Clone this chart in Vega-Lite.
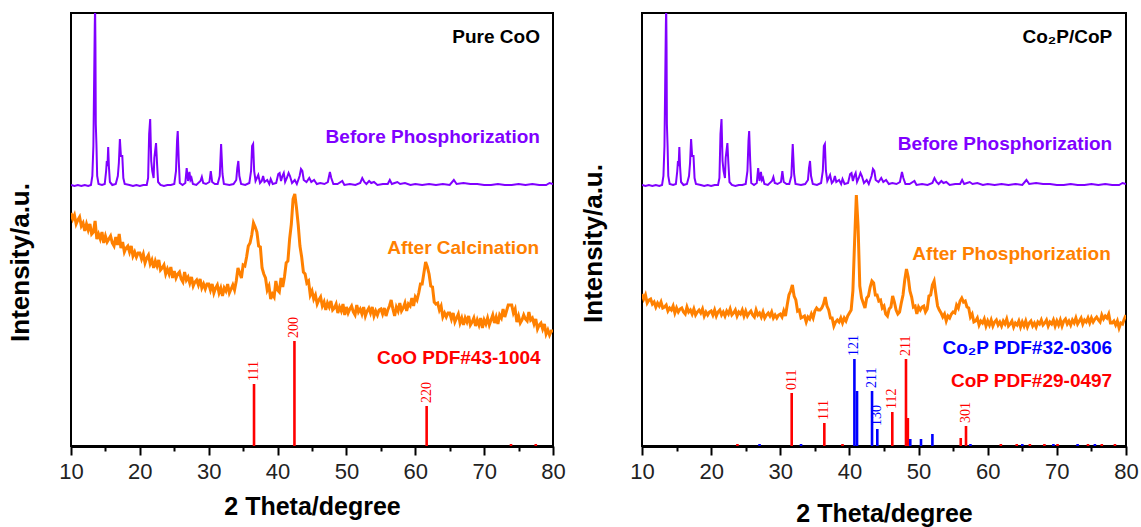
{
"$schema": "https://vega.github.io/schema/vega-lite/v6.json",
"padding": {"left": 6, "top": 12, "right": 0, "bottom": 0},
"spacing": 12,
"config": {"view": {"stroke": "#000000", "strokeWidth": 2}, "axis": {"grid": false}},
"datasets": {
"purple": [{"x":10,"y":261},{"x":10.5,"y":260},{"x":11,"y":261},{"x":11.5,"y":260},{"x":12,"y":261},{"x":12.5,"y":260},{"x":12.9,"y":261},{"x":13.1,"y":270},{"x":13.25,"y":300},{"x":13.35,"y":360},{"x":13.45,"y":420},{"x":13.5,"y":440},{"x":13.55,"y":400},{"x":13.6,"y":322},{"x":13.7,"y":300},{"x":13.8,"y":270},{"x":14,"y":262},{"x":14.5,"y":261},{"x":14.9,"y":262},{"x":15.1,"y":275},{"x":15.2,"y":285},{"x":15.3,"y":280},{"x":15.4,"y":299},{"x":15.5,"y":280},{"x":15.65,"y":264},{"x":16,"y":261},{"x":16.5,"y":262},{"x":16.8,"y":270},{"x":16.95,"y":283},{"x":17.1,"y":307},{"x":17.25,"y":290},{"x":17.45,"y":290},{"x":17.6,"y":268},{"x":17.8,"y":262},{"x":18.5,"y":261},{"x":19,"y":260},{"x":19.5,"y":261},{"x":20,"y":260},{"x":20.5,"y":261},{"x":21,"y":261},{"x":21.2,"y":268},{"x":21.35,"y":312},{"x":21.5,"y":327},{"x":21.65,"y":285},{"x":21.8,"y":275},{"x":22,"y":268},{"x":22.1,"y":288},{"x":22.35,"y":303},{"x":22.5,"y":282},{"x":22.65,"y":264},{"x":23,"y":261},{"x":23.5,"y":260},{"x":24,"y":261},{"x":24.5,"y":261},{"x":25,"y":262},{"x":25.25,"y":275},{"x":25.4,"y":305},{"x":25.5,"y":315},{"x":25.65,"y":285},{"x":25.8,"y":263},{"x":26.2,"y":261},{"x":26.6,"y":263},{"x":26.8,"y":278},{"x":27,"y":265},{"x":27.2,"y":274},{"x":27.35,"y":266},{"x":27.5,"y":268},{"x":27.7,"y":262},{"x":28.2,"y":261},{"x":28.8,"y":265},{"x":29,"y":269},{"x":29.2,"y":263},{"x":29.6,"y":262},{"x":30.1,"y":264},{"x":30.3,"y":275},{"x":30.5,"y":264},{"x":30.9,"y":262},{"x":31.3,"y":262},{"x":31.6,"y":270},{"x":31.8,"y":302},{"x":32,"y":272},{"x":32.2,"y":262},{"x":33,"y":261},{"x":33.6,"y":262},{"x":34,"y":266},{"x":34.15,"y":278},{"x":34.3,"y":285},{"x":34.45,"y":270},{"x":34.7,"y":262},{"x":35.3,"y":261},{"x":35.9,"y":263},{"x":36.15,"y":275},{"x":36.3,"y":300},{"x":36.45,"y":302},{"x":36.6,"y":275},{"x":36.8,"y":265},{"x":37,"y":268},{"x":37.2,"y":271},{"x":37.45,"y":263},{"x":37.7,"y":265},{"x":37.9,"y":270},{"x":38.1,"y":264},{"x":38.5,"y":266},{"x":38.8,"y":262},{"x":39,"y":267},{"x":39.3,"y":262},{"x":39.8,"y":263},{"x":40.1,"y":272},{"x":40.3,"y":273},{"x":40.5,"y":265},{"x":40.7,"y":270},{"x":40.9,"y":273},{"x":41.1,"y":264},{"x":41.35,"y":268},{"x":41.6,"y":273},{"x":41.8,"y":270},{"x":42.1,"y":263},{"x":42.5,"y":266},{"x":42.8,"y":262},{"x":43.2,"y":270},{"x":43.4,"y":277},{"x":43.6,"y":275},{"x":43.8,"y":266},{"x":44.2,"y":264},{"x":44.6,"y":268},{"x":44.9,"y":264},{"x":45.3,"y":266},{"x":45.7,"y":262},{"x":46.2,"y":263},{"x":46.8,"y":262},{"x":47.3,"y":264},{"x":47.6,"y":274},{"x":47.8,"y":268},{"x":48.1,"y":262},{"x":48.7,"y":262},{"x":49.4,"y":265},{"x":49.7,"y":261},{"x":50.5,"y":262},{"x":51.3,"y":261},{"x":52,"y":263},{"x":52.3,"y":268},{"x":52.6,"y":264},{"x":52.9,"y":262},{"x":53.3,"y":265},{"x":53.6,"y":263},{"x":54,"y":264},{"x":54.5,"y":261},{"x":55.3,"y":262},{"x":56,"y":262},{"x":56.3,"y":266},{"x":56.6,"y":262},{"x":57,"y":263},{"x":57.4,"y":264},{"x":57.8,"y":262},{"x":58.5,"y":263},{"x":59.3,"y":261},{"x":60,"y":262},{"x":61,"y":261},{"x":62,"y":262},{"x":63,"y":261},{"x":64,"y":262},{"x":65,"y":261},{"x":65.6,"y":266},{"x":66,"y":262},{"x":67,"y":263},{"x":68,"y":262},{"x":69,"y":262},{"x":70,"y":261},{"x":71,"y":261},{"x":72,"y":262},{"x":73,"y":261},{"x":74,"y":261},{"x":75,"y":262},{"x":76,"y":261},{"x":77,"y":262},{"x":78,"y":261},{"x":79,"y":261},{"x":79.5,"y":263},{"x":80,"y":262}],
"orangeL": [{"x":10,"y":233},{"x":10.25,"y":227},{"x":10.5,"y":231},{"x":10.75,"y":222},{"x":11,"y":226},{"x":11.25,"y":229},{"x":11.5,"y":220},{"x":11.75,"y":223},{"x":12,"y":215},{"x":12.25,"y":222},{"x":12.5,"y":216},{"x":12.75,"y":222},{"x":13,"y":212},{"x":13.25,"y":214},{"x":13.5,"y":225},{"x":13.75,"y":207},{"x":14,"y":212},{"x":14.25,"y":207},{"x":14.5,"y":214},{"x":14.75,"y":203},{"x":15,"y":210},{"x":15.25,"y":204},{"x":15.5,"y":207},{"x":15.75,"y":210},{"x":16,"y":203},{"x":16.25,"y":200},{"x":16.5,"y":209},{"x":16.75,"y":201},{"x":17,"y":212},{"x":17.25,"y":198},{"x":17.5,"y":204},{"x":17.75,"y":194},{"x":18,"y":198},{"x":18.25,"y":200},{"x":18.5,"y":194},{"x":18.75,"y":200},{"x":19,"y":190},{"x":19.25,"y":194},{"x":19.5,"y":189},{"x":19.75,"y":193},{"x":20,"y":193},{"x":20.25,"y":187},{"x":20.5,"y":192},{"x":20.75,"y":183},{"x":21,"y":188},{"x":21.25,"y":191},{"x":21.5,"y":182},{"x":21.75,"y":186},{"x":22,"y":178},{"x":22.25,"y":185},{"x":22.5,"y":180},{"x":22.75,"y":186},{"x":23,"y":176},{"x":23.25,"y":178},{"x":23.5,"y":181},{"x":23.75,"y":172},{"x":24,"y":177},{"x":24.25,"y":172},{"x":24.5,"y":179},{"x":24.75,"y":168},{"x":25,"y":175},{"x":25.25,"y":168},{"x":25.5,"y":172},{"x":25.75,"y":174},{"x":26,"y":167},{"x":26.25,"y":164},{"x":26.5,"y":174},{"x":26.75,"y":166},{"x":27,"y":169},{"x":27.25,"y":163},{"x":27.5,"y":169},{"x":27.75,"y":160},{"x":28,"y":164},{"x":28.25,"y":166},{"x":28.5,"y":161},{"x":28.75,"y":167},{"x":29,"y":158},{"x":29.25,"y":162},{"x":29.5,"y":157},{"x":29.75,"y":162},{"x":30,"y":162},{"x":30.25,"y":156},{"x":30.5,"y":162},{"x":30.75,"y":153},{"x":31,"y":158},{"x":31.25,"y":161},{"x":31.5,"y":153},{"x":31.75,"y":158},{"x":32,"y":150},{"x":32.25,"y":158},{"x":32.5,"y":155},{"x":32.75,"y":162},{"x":33,"y":153},{"x":33.25,"y":157},{"x":33.5,"y":161},{"x":33.75,"y":156},{"x":34,"y":165},{"x":34.25,"y":178},{"x":34.5,"y":173},{"x":34.75,"y":168},{"x":35,"y":181},{"x":35.25,"y":180},{"x":35.5,"y":189},{"x":35.75,"y":200},{"x":36,"y":203},{"x":36.25,"y":211},{"x":36.5,"y":223},{"x":36.75,"y":219},{"x":37,"y":214},{"x":37.25,"y":200},{"x":37.5,"y":199},{"x":37.75,"y":178},{"x":38,"y":172},{"x":38.25,"y":168},{"x":38.5,"y":156},{"x":38.75,"y":160},{"x":39,"y":147},{"x":39.25,"y":152},{"x":39.5,"y":149},{"x":39.75,"y":165},{"x":40,"y":156},{"x":40.25,"y":154},{"x":40.5,"y":168},{"x":40.75,"y":159},{"x":41,"y":169},{"x":41.25,"y":183},{"x":41.5,"y":185},{"x":41.75,"y":207},{"x":42,"y":222},{"x":42.25,"y":247},{"x":42.5,"y":252},{"x":42.75,"y":238},{"x":43,"y":221},{"x":43.25,"y":200},{"x":43.5,"y":189},{"x":43.75,"y":174},{"x":44,"y":172},{"x":44.25,"y":163},{"x":44.5,"y":165},{"x":44.75,"y":151},{"x":45,"y":155},{"x":45.25,"y":147},{"x":45.5,"y":151},{"x":45.75,"y":142},{"x":46,"y":146},{"x":46.25,"y":149},{"x":46.5,"y":140},{"x":46.75,"y":144},{"x":47,"y":136},{"x":47.25,"y":143},{"x":47.5,"y":139},{"x":47.75,"y":145},{"x":48,"y":136},{"x":48.25,"y":138},{"x":48.5,"y":142},{"x":48.75,"y":133},{"x":49,"y":139},{"x":49.25,"y":135},{"x":49.5,"y":142},{"x":49.75,"y":131},{"x":50,"y":139},{"x":50.25,"y":133},{"x":50.5,"y":137},{"x":50.75,"y":140},{"x":51,"y":134},{"x":51.25,"y":131},{"x":51.5,"y":141},{"x":51.75,"y":134},{"x":52,"y":137},{"x":52.25,"y":132},{"x":52.5,"y":139},{"x":52.75,"y":130},{"x":53,"y":135},{"x":53.25,"y":138},{"x":53.5,"y":133},{"x":53.75,"y":139},{"x":54,"y":130},{"x":54.25,"y":135},{"x":54.5,"y":131},{"x":54.75,"y":136},{"x":55,"y":137},{"x":55.25,"y":132},{"x":55.5,"y":138},{"x":55.75,"y":130},{"x":56,"y":136},{"x":56.25,"y":140},{"x":56.5,"y":146},{"x":56.75,"y":137},{"x":57,"y":130},{"x":57.25,"y":139},{"x":57.5,"y":135},{"x":57.75,"y":143},{"x":58,"y":135},{"x":58.25,"y":138},{"x":58.5,"y":143},{"x":58.75,"y":135},{"x":59,"y":142},{"x":59.25,"y":140},{"x":59.5,"y":148},{"x":59.75,"y":140},{"x":60,"y":149},{"x":60.25,"y":146},{"x":60.5,"y":153},{"x":60.75,"y":162},{"x":61,"y":162},{"x":61.25,"y":173},{"x":61.5,"y":184},{"x":61.75,"y":179},{"x":62,"y":172},{"x":62.25,"y":160},{"x":62.5,"y":159},{"x":62.75,"y":144},{"x":63,"y":142},{"x":63.25,"y":143},{"x":63.5,"y":136},{"x":63.75,"y":140},{"x":64,"y":129},{"x":64.25,"y":133},{"x":64.5,"y":129},{"x":64.75,"y":133},{"x":65,"y":133},{"x":65.25,"y":127},{"x":65.5,"y":133},{"x":65.75,"y":124},{"x":66,"y":128},{"x":66.25,"y":132},{"x":66.5,"y":123},{"x":66.75,"y":128},{"x":67,"y":121},{"x":67.25,"y":128},{"x":67.5,"y":124},{"x":67.75,"y":130},{"x":68,"y":121},{"x":68.25,"y":124},{"x":68.5,"y":128},{"x":68.75,"y":120},{"x":69,"y":126},{"x":69.25,"y":121},{"x":69.5,"y":128},{"x":69.75,"y":118},{"x":70,"y":126},{"x":70.25,"y":122},{"x":70.5,"y":128},{"x":70.75,"y":121},{"x":71,"y":126},{"x":71.25,"y":131},{"x":71.5,"y":123},{"x":71.75,"y":129},{"x":72,"y":122},{"x":72.25,"y":131},{"x":72.5,"y":128},{"x":72.75,"y":137},{"x":73,"y":129},{"x":73.25,"y":135},{"x":73.5,"y":141},{"x":73.75,"y":141},{"x":74,"y":141},{"x":74.25,"y":133},{"x":74.5,"y":137},{"x":74.75,"y":124},{"x":75,"y":130},{"x":75.25,"y":123},{"x":75.5,"y":126},{"x":75.75,"y":131},{"x":76,"y":127},{"x":76.25,"y":125},{"x":76.5,"y":134},{"x":76.75,"y":126},{"x":77,"y":128},{"x":77.25,"y":122},{"x":77.5,"y":127},{"x":77.75,"y":117},{"x":78,"y":121},{"x":78.25,"y":123},{"x":78.5,"y":117},{"x":78.75,"y":122},{"x":79,"y":112},{"x":79.25,"y":116},{"x":79.5,"y":111},{"x":79.75,"y":115},{"x":80,"y":115}],
"orangeR": [{"x":10,"y":152},{"x":10.25,"y":147},{"x":10.5,"y":151},{"x":10.75,"y":143},{"x":11,"y":146},{"x":11.25,"y":147},{"x":11.5,"y":142},{"x":11.75,"y":144},{"x":12,"y":139},{"x":12.25,"y":143},{"x":12.5,"y":140},{"x":12.75,"y":144},{"x":13,"y":138},{"x":13.25,"y":139},{"x":13.5,"y":141},{"x":13.75,"y":135},{"x":14,"y":138},{"x":14.25,"y":136},{"x":14.5,"y":140},{"x":14.75,"y":133},{"x":15,"y":138},{"x":15.25,"y":134},{"x":15.5,"y":137},{"x":15.75,"y":138},{"x":16,"y":134},{"x":16.25,"y":132},{"x":16.5,"y":139},{"x":16.75,"y":134},{"x":17,"y":136},{"x":17.25,"y":132},{"x":17.5,"y":137},{"x":17.75,"y":131},{"x":18,"y":134},{"x":18.25,"y":136},{"x":18.5,"y":133},{"x":18.75,"y":137},{"x":19,"y":130},{"x":19.25,"y":134},{"x":19.5,"y":131},{"x":19.75,"y":134},{"x":20,"y":135},{"x":20.25,"y":131},{"x":20.5,"y":136},{"x":20.75,"y":130},{"x":21,"y":134},{"x":21.25,"y":136},{"x":21.5,"y":131},{"x":21.75,"y":134},{"x":22,"y":130},{"x":22.25,"y":135},{"x":22.5,"y":132},{"x":22.75,"y":137},{"x":23,"y":131},{"x":23.25,"y":133},{"x":23.5,"y":136},{"x":23.75,"y":130},{"x":24,"y":134},{"x":24.25,"y":132},{"x":24.5,"y":136},{"x":24.75,"y":130},{"x":25,"y":135},{"x":25.25,"y":130},{"x":25.5,"y":133},{"x":25.75,"y":135},{"x":26,"y":131},{"x":26.25,"y":129},{"x":26.5,"y":136},{"x":26.75,"y":131},{"x":27,"y":133},{"x":27.25,"y":129},{"x":27.5,"y":134},{"x":27.75,"y":128},{"x":28,"y":131},{"x":28.25,"y":133},{"x":28.5,"y":130},{"x":28.75,"y":134},{"x":29,"y":128},{"x":29.25,"y":131},{"x":29.5,"y":128},{"x":29.75,"y":131},{"x":30,"y":132},{"x":30.25,"y":129},{"x":30.5,"y":135},{"x":30.75,"y":130},{"x":31,"y":141},{"x":31.25,"y":151},{"x":31.5,"y":155},{"x":31.75,"y":161},{"x":32,"y":150},{"x":32.25,"y":146},{"x":32.5,"y":135},{"x":32.75,"y":136},{"x":33,"y":128},{"x":33.25,"y":129},{"x":33.5,"y":130},{"x":33.75,"y":124},{"x":34,"y":129},{"x":34.25,"y":127},{"x":34.5,"y":132},{"x":34.75,"y":128},{"x":35,"y":135},{"x":35.25,"y":138},{"x":35.5,"y":136},{"x":35.75,"y":136},{"x":36,"y":138},{"x":36.25,"y":142},{"x":36.5,"y":149},{"x":36.75,"y":140},{"x":37,"y":136},{"x":37.25,"y":128},{"x":37.5,"y":128},{"x":37.75,"y":120},{"x":38,"y":124},{"x":38.25,"y":126},{"x":38.5,"y":124},{"x":38.75,"y":128},{"x":39,"y":123},{"x":39.25,"y":128},{"x":39.5,"y":125},{"x":39.75,"y":130},{"x":40,"y":133},{"x":40.25,"y":136},{"x":40.5,"y":155},{"x":40.75,"y":205},{"x":41,"y":251},{"x":41.25,"y":220},{"x":41.5,"y":160},{"x":41.75,"y":148},{"x":42,"y":143},{"x":42.25,"y":138},{"x":42.5,"y":148},{"x":42.75,"y":150},{"x":43,"y":159},{"x":43.25,"y":165},{"x":43.5,"y":163},{"x":43.75,"y":151},{"x":44,"y":151},{"x":44.25,"y":145},{"x":44.5,"y":146},{"x":44.75,"y":138},{"x":45,"y":140},{"x":45.25,"y":132},{"x":45.5,"y":130},{"x":45.75,"y":137},{"x":46,"y":139},{"x":46.25,"y":150},{"x":46.5,"y":144},{"x":46.75,"y":136},{"x":47,"y":132},{"x":47.25,"y":134},{"x":47.5,"y":143},{"x":47.75,"y":151},{"x":48,"y":166},{"x":48.25,"y":177},{"x":48.5,"y":169},{"x":48.75,"y":155},{"x":49,"y":149},{"x":49.25,"y":139},{"x":49.5,"y":140},{"x":49.75,"y":132},{"x":50,"y":139},{"x":50.25,"y":136},{"x":50.5,"y":139},{"x":50.75,"y":140},{"x":51,"y":134},{"x":51.25,"y":137},{"x":51.5,"y":150},{"x":51.75,"y":151},{"x":52,"y":161},{"x":52.25,"y":165},{"x":52.5,"y":152},{"x":52.75,"y":140},{"x":53,"y":136},{"x":53.25,"y":133},{"x":53.5,"y":129},{"x":53.75,"y":132},{"x":54,"y":125},{"x":54.25,"y":130},{"x":54.5,"y":128},{"x":54.75,"y":132},{"x":55,"y":134},{"x":55.25,"y":133},{"x":55.5,"y":141},{"x":55.75,"y":138},{"x":56,"y":145},{"x":56.25,"y":148},{"x":56.5,"y":144},{"x":56.75,"y":145},{"x":57,"y":139},{"x":57.25,"y":138},{"x":57.5,"y":129},{"x":57.75,"y":132},{"x":58,"y":124},{"x":58.25,"y":125},{"x":58.5,"y":128},{"x":58.75,"y":121},{"x":59,"y":125},{"x":59.25,"y":123},{"x":59.5,"y":127},{"x":59.75,"y":120},{"x":60,"y":125},{"x":60.25,"y":121},{"x":60.5,"y":126},{"x":60.75,"y":120},{"x":61,"y":124},{"x":61.25,"y":126},{"x":61.5,"y":121},{"x":61.75,"y":124},{"x":62,"y":120},{"x":62.25,"y":125},{"x":62.5,"y":122},{"x":62.75,"y":127},{"x":63,"y":120},{"x":63.25,"y":122},{"x":63.5,"y":125},{"x":63.75,"y":119},{"x":64,"y":123},{"x":64.25,"y":121},{"x":64.5,"y":125},{"x":64.75,"y":119},{"x":65,"y":124},{"x":65.25,"y":120},{"x":65.5,"y":125},{"x":65.75,"y":119},{"x":66,"y":123},{"x":66.25,"y":125},{"x":66.5,"y":120},{"x":66.75,"y":123},{"x":67,"y":119},{"x":67.25,"y":124},{"x":67.5,"y":122},{"x":67.75,"y":126},{"x":68,"y":121},{"x":68.25,"y":123},{"x":68.5,"y":126},{"x":68.75,"y":120},{"x":69,"y":124},{"x":69.25,"y":122},{"x":69.5,"y":126},{"x":69.75,"y":120},{"x":70,"y":125},{"x":70.25,"y":121},{"x":70.5,"y":126},{"x":70.75,"y":120},{"x":71,"y":125},{"x":71.25,"y":127},{"x":71.5,"y":122},{"x":71.75,"y":125},{"x":72,"y":121},{"x":72.25,"y":126},{"x":72.5,"y":123},{"x":72.75,"y":128},{"x":73,"y":122},{"x":73.25,"y":125},{"x":73.5,"y":128},{"x":73.75,"y":122},{"x":74,"y":126},{"x":74.25,"y":124},{"x":74.5,"y":128},{"x":74.75,"y":123},{"x":75,"y":128},{"x":75.25,"y":124},{"x":75.5,"y":127},{"x":75.75,"y":129},{"x":76,"y":126},{"x":76.25,"y":124},{"x":76.5,"y":131},{"x":76.75,"y":127},{"x":77,"y":130},{"x":77.25,"y":128},{"x":77.5,"y":132},{"x":77.75,"y":123},{"x":78,"y":123},{"x":78.25,"y":125},{"x":78.5,"y":121},{"x":78.75,"y":125},{"x":79,"y":118},{"x":79.25,"y":123},{"x":79.5,"y":122},{"x":79.75,"y":127},{"x":80,"y":131}],
"sticksL": [{"x":36.58,"y":62,"c":"r","lab":"111"},{"x":42.45,"y":105,"c":"r","lab":"200"},{"x":61.65,"y":40,"c":"r","lab":"220"},{"x":73.9,"y":2,"c":"r"},{"x":77.5,"y":2,"c":"r"}],
"sticksR": [{"x":23.8,"y":2,"c":"r"},{"x":31.65,"y":53,"c":"r","lab":"011"},{"x":36.37,"y":23,"c":"r","lab":"111"},{"x":39.0,"y":2,"c":"r"},{"x":46.2,"y":34,"c":"r","lab":"112"},{"x":48.18,"y":87,"c":"r","lab":"211"},{"x":48.45,"y":28,"c":"r"},{"x":56.1,"y":8,"c":"r"},{"x":56.86,"y":20,"c":"r","lab":"301"},{"x":61.9,"y":2,"c":"r"},{"x":64.2,"y":2,"c":"r"},{"x":66.1,"y":2,"c":"r"},{"x":68.2,"y":2,"c":"r"},{"x":70.1,"y":2,"c":"r"},{"x":74.5,"y":2,"c":"r"},{"x":76.5,"y":2,"c":"r"},{"x":78.4,"y":2,"c":"r"},{"x":27.0,"y":2,"c":"b"},{"x":33.0,"y":2,"c":"b"},{"x":40.72,"y":87,"c":"b","lab":"121"},{"x":41.1,"y":55,"c":"b"},{"x":43.27,"y":55,"c":"b","lab":"211"},{"x":44.03,"y":17,"c":"b","lab":"130"},{"x":48.8,"y":7,"c":"b"},{"x":50.35,"y":7,"c":"b"},{"x":52.0,"y":12,"c":"b"},{"x":57.5,"y":2,"c":"b"},{"x":65.0,"y":2,"c":"b"},{"x":69.5,"y":2,"c":"b"},{"x":73.0,"y":2,"c":"b"},{"x":75.5,"y":2,"c":"b"}],
"notesL": [{"x":78.1,"y":409,"t":"Pure CoO","c":"k"},{"x":78.1,"y":309,"t":"Before Phosphorization","c":"p"},{"x":78.0,"y":198,"t":"After Calcination","c":"o"},{"x":78.2,"y":88,"t":"CoO PDF#43-1004","c":"r"}],
"notesR": [{"x":78.0,"y":409,"t":"Co₂P/CoP","c":"k"},{"x":78.0,"y":302,"t":"Before Phosphorization","c":"p"},{"x":77.8,"y":192,"t":"After Phosphorization","c":"o"},{"x":78.0,"y":98,"t":"Co₂P PDF#32-0306","c":"b"},{"x":78.0,"y":65,"t":"CoP PDF#29-0497","c":"r"}]
},
"hconcat": [
{
"width": 482, "height": 433,
"encoding": {
"x": {"field": "x", "type": "quantitative", "scale": {"domain": [10, 80], "nice": false, "zero": false},
 "axis": {"title": "2 Theta/degree", "values": [10,15,20,25,30,35,40,45,50,55,60,65,70,75,80], "labelExpr": "datum.value % 10 === 0 ? datum.label : ''", "labelOverlap": false, "labelBound": false, "labelFlush": false, "tickSize": {"condition": {"test": "datum.value % 10 === 0", "value": 9}, "value": 5}, "tickWidth": 2, "tickColor": "#000000", "domainColor": "#000000", "domainWidth": 3, "labelFont": "Liberation Sans", "labelFontSize": 22, "labelColor": "#222222", "labelPadding": 6, "titleFont": "Liberation Sans", "titleFontSize": 25, "titleFontWeight": "bold", "titleColor": "#000000", "titlePadding": 12}},
"y": {"field": "y", "type": "quantitative", "scale": {"domain": [0, 433], "nice": false, "zero": false},
 "axis": {"title": "Intensity/a.u.", "labels": false, "ticks": false, "domain": false, "titleFont": "Liberation Sans", "titleFontSize": 26, "titleFontWeight": "bold", "titleColor": "#000000", "titlePadding": 38, "titleY": 249}}
},
"layer": [
{"data": {"name": "sticksL"}, "mark": {"type": "rule", "strokeWidth": 2.6}, "encoding": {"y2": {"datum": 0}, "color": {"field": "c", "type": "nominal", "scale": {"domain": ["k","p","o","r","b"], "range": ["#000000","#8000ff","#ff8000","#ff0000","#0000ff"]}, "legend": null}}},
{"data": {"name": "purple"}, "mark": {"type": "line", "color": "#8000ff", "strokeWidth": 2, "clip": true}, "encoding": {}},
{"data": {"name": "orangeL"}, "mark": {"type": "line", "color": "#ff8000", "strokeWidth": 3, "clip": true}, "encoding": {}},
{"data": {"name": "sticksL"}, "transform": [{"filter": "datum.lab"}], "mark": {"type": "text", "angle": 270, "align": "left", "baseline": "middle", "dx": 3, "font": "Liberation Serif", "fontSize": 14}, "encoding": {"text": {"field": "lab"}, "color": {"field": "c", "type": "nominal", "legend": null}}},
{"data": {"name": "notesL"}, "mark": {"type": "text", "align": "right", "baseline": "middle", "font": "Liberation Sans", "fontSize": 19, "fontWeight": "bold"}, "encoding": {"text": {"field": "t"}, "color": {"field": "c", "type": "nominal", "legend": null}}}
]
},
{
"width": 484, "height": 433,
"encoding": {
"x": {"field": "x", "type": "quantitative", "scale": {"domain": [10, 80], "nice": false, "zero": false},
 "axis": {"title": "2 Theta/degree", "values": [10,15,20,25,30,35,40,45,50,55,60,65,70,75,80], "labelExpr": "datum.value % 10 === 0 ? datum.label : ''", "labelOverlap": false, "labelBound": false, "labelFlush": false, "tickSize": {"condition": {"test": "datum.value % 10 === 0", "value": 9}, "value": 5}, "tickWidth": 2, "tickColor": "#000000", "domainColor": "#000000", "domainWidth": 3, "labelFont": "Liberation Sans", "labelFontSize": 22, "labelColor": "#222222", "labelPadding": 6, "titleFont": "Liberation Sans", "titleFontSize": 25, "titleFontWeight": "bold", "titleColor": "#000000", "titlePadding": 19}},
"y": {"field": "y", "type": "quantitative", "scale": {"domain": [0, 433], "nice": false, "zero": false},
 "axis": {"title": "Intensity/a.u.", "labels": false, "ticks": false, "domain": false, "titleFont": "Liberation Sans", "titleFontSize": 26, "titleFontWeight": "bold", "titleColor": "#000000", "titlePadding": 36, "titleY": 230}}
},
"layer": [
{"data": {"name": "sticksR"}, "mark": {"type": "rule", "strokeWidth": 2.6}, "encoding": {"y2": {"datum": 0}, "color": {"field": "c", "type": "nominal", "scale": {"domain": ["k","p","o","r","b"], "range": ["#000000","#8000ff","#ff8000","#ff0000","#0000ff"]}, "legend": null}}},
{"data": {"name": "purple"}, "mark": {"type": "line", "color": "#8000ff", "strokeWidth": 2, "clip": true}, "encoding": {}},
{"data": {"name": "orangeR"}, "mark": {"type": "line", "color": "#ff8000", "strokeWidth": 3, "clip": true}, "encoding": {}},
{"data": {"name": "sticksR"}, "transform": [{"filter": "datum.lab"}], "mark": {"type": "text", "angle": 270, "align": "left", "baseline": "middle", "dx": 3, "font": "Liberation Serif", "fontSize": 14}, "encoding": {"text": {"field": "lab"}, "color": {"field": "c", "type": "nominal", "legend": null}}},
{"data": {"name": "notesR"}, "mark": {"type": "text", "align": "right", "baseline": "middle", "font": "Liberation Sans", "fontSize": 19, "fontWeight": "bold"}, "encoding": {"text": {"field": "t"}, "color": {"field": "c", "type": "nominal", "legend": null}}}
]
}
]
}
